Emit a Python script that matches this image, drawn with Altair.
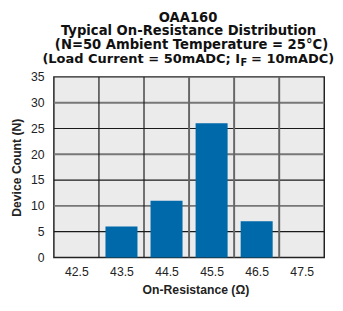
import altair as alt
import pandas as pd

categories = [42.5, 43.5, 44.5, 45.5, 46.5, 47.5]
counts = [0, 6, 11, 26, 7, 0]
x_boundaries = [43, 44, 45, 46, 47]
boundary_dark = [True, True, False, False, False]
y_ticks = [0, 5, 10, 15, 20, 25, 30, 35]
y_lines = [5, 10, 15, 20, 25, 30]
title_lines = ["OAA160", "Typical On-Resistance Distribution",
               "(N=50 Ambient Temperature = 25°C)"]
title_last = ["(Load Current = 50mADC; I", "F", "= 10mADC)"]

W, H = 277, 185
TF = "DejaVu Sans"
AF = "Liberation Sans"

bars = pd.DataFrame({"r": categories, "n": counts})
bars = bars[bars["n"] > 0].copy()
half = 0.355
bars["lo"] = bars["r"] - half
bars["hi"] = bars["r"] + half

vlines = pd.DataFrame({"x": x_boundaries, "dark": boundary_dark})
hlines = pd.DataFrame({"y": y_lines})
hlines["dark"] = hlines["y"] % 10 != 0

xs = alt.Scale(domain=[42, 48], nice=False, zero=False)
ys = alt.Scale(domain=[0, 35], nice=False)

x_axis = alt.Axis(values=categories, format=".1f", grid=False, ticks=False, domain=False,
                  labelFont=AF, labelFontSize=12.5, labelColor="#222", labelPadding=8,
                  title="On-Resistance (Ω)", titleFont=AF, titleFontSize=12.5,
                  titleFontWeight="bold", titleColor="#222",
                  titleX=145, titleY=37, titleBaseline="alphabetic", titleAlign="center")
y_axis = alt.Axis(values=y_ticks, grid=False, ticks=False, domain=False,
                  labelFont=AF, labelFontSize=12.5, labelColor="#222", labelPadding=10,
                  title="Device Count (N)", titleFont=AF, titleFontSize=12.5,
                  titleFontWeight="bold", titleColor="#222", titlePadding=7)

h = alt.Chart(hlines).mark_rule().encode(
    y=alt.Y("y:Q", scale=ys, axis=y_axis),
    color=alt.condition("datum.dark", alt.value("#1a1a1a"), alt.value("#777777")),
    strokeWidth=alt.condition("datum.dark", alt.value(1.2), alt.value(2)),
)
v = alt.Chart(vlines).mark_rule().encode(
    x=alt.X("x:Q", scale=xs, axis=x_axis),
    color=alt.condition("datum.dark", alt.value("#1a1a1a"), alt.value("#666666")),
    strokeWidth=alt.condition("datum.dark", alt.value(1.2), alt.value(2)),
)
b = alt.Chart(bars).mark_bar(color="#0069aa").encode(
    x=alt.X("lo:Q", scale=xs, axis=x_axis),
    x2="hi:Q",
    y=alt.Y("n:Q", scale=ys, axis=y_axis),
    y2=alt.datum(0),
)

def label(txt, x, y, size=13.5, align="center"):
    return alt.Chart(pd.DataFrame({"t": [txt]})).mark_text(
        font=TF, fontSize=size, fontWeight="bold", color="#111", align=align,
        baseline="alphabetic",
    ).encode(text="t:N", x=alt.value(x), y=alt.value(y))

texts = [
    label(title_lines[0], 137.5, -56.5),
    label(title_lines[1], 138, -42.5),
    label(title_lines[2], 141, -28.5),
    label(title_last[0], 190.8, -14.5, size=13.3, align="right"),
    label(title_last[1], 191.3, -11.5, size=10, align="left"),
    label(title_last[2], 202, -14.5, size=13.3, align="left"),
]

chart = alt.layer(h, v, b, *texts).properties(
    width=W, height=H,
    autosize=alt.AutoSizeParams(type="none"),
    padding={"left": 47, "top": 67, "right": 11, "bottom": 40},
).configure_view(fill="#ebebeb", stroke="#222", strokeWidth=1.5)

chart.save("out.html", embed_options={"renderer": "svg", "actions": False})
